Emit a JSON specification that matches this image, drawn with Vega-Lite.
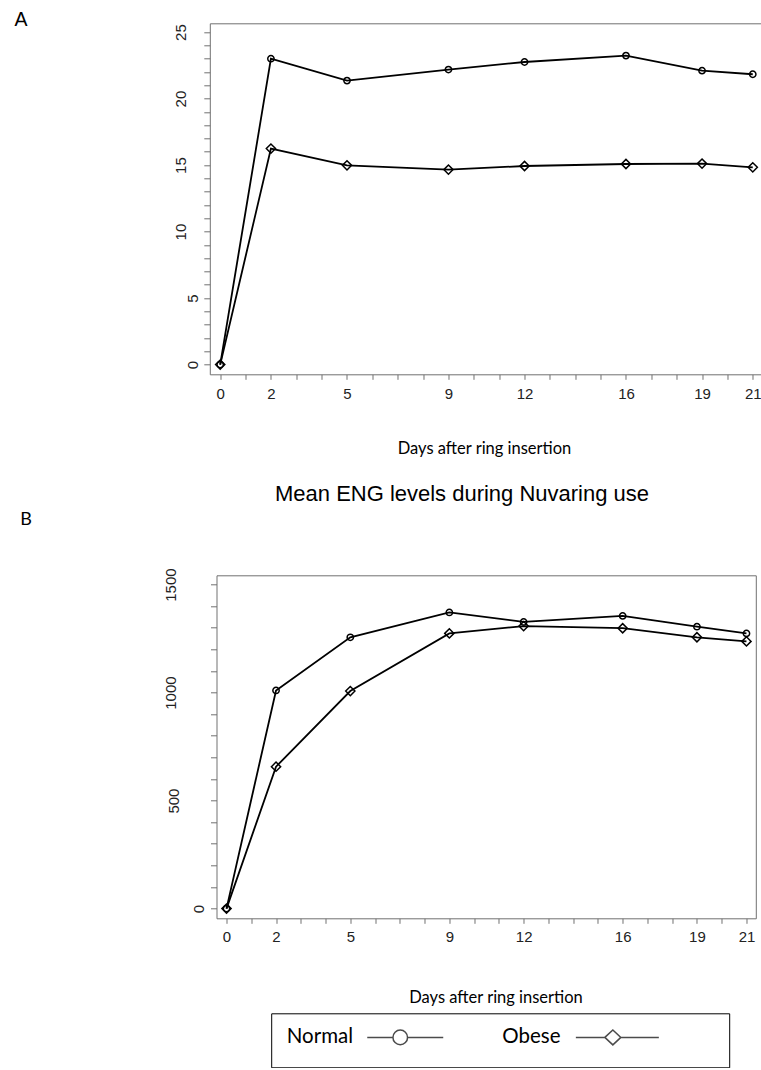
{
  "$schema": "https://vega.github.io/schema/vega-lite/v6.json",
  "padding": {"left": 13.5, "top": 9.3, "right": 0, "bottom": 0},
  "background": "white",
  "spacing": 24,
  "config": {
    "view": {"stroke": null},
    "axis": {
      "grid": false,
      "labelFont": "Liberation Sans",
      "labelFontSize": 15,
      "labelColor": "#222222",
      "domainColor": "#707070",
      "tickColor": "#707070",
      "domainWidth": 1,
      "tickWidth": 1,
      "labelFlush": false,
      "labelOverlap": false,
      "labelBound": false,
      "titleFontWeight": "normal",
      "titleColor": "black"
    }
  },
  "datasets": {
    "A": [
      {"day": 0, "group": "Normal", "value": 0},
      {"day": 2, "group": "Normal", "value": 23.0},
      {"day": 5, "group": "Normal", "value": 21.35},
      {"day": 9, "group": "Normal", "value": 22.18},
      {"day": 12, "group": "Normal", "value": 22.75},
      {"day": 16, "group": "Normal", "value": 23.23},
      {"day": 19, "group": "Normal", "value": 22.1},
      {"day": 21, "group": "Normal", "value": 21.83},
      {"day": 0, "group": "Obese", "value": 0},
      {"day": 2, "group": "Obese", "value": 16.24},
      {"day": 5, "group": "Obese", "value": 14.98},
      {"day": 9, "group": "Obese", "value": 14.66},
      {"day": 12, "group": "Obese", "value": 14.93},
      {"day": 16, "group": "Obese", "value": 15.08},
      {"day": 19, "group": "Obese", "value": 15.11},
      {"day": 21, "group": "Obese", "value": 14.83}
    ],
    "B": [
      {"day": 0, "group": "Normal", "value": 0},
      {"day": 2, "group": "Normal", "value": 1010},
      {"day": 5, "group": "Normal", "value": 1256},
      {"day": 9, "group": "Normal", "value": 1371},
      {"day": 12, "group": "Normal", "value": 1327},
      {"day": 16, "group": "Normal", "value": 1355},
      {"day": 19, "group": "Normal", "value": 1305},
      {"day": 21, "group": "Normal", "value": 1274},
      {"day": 0, "group": "Obese", "value": 0},
      {"day": 2, "group": "Obese", "value": 657},
      {"day": 5, "group": "Obese", "value": 1007},
      {"day": 9, "group": "Obese", "value": 1274},
      {"day": 12, "group": "Obese", "value": 1308},
      {"day": 16, "group": "Obese", "value": 1298},
      {"day": 19, "group": "Obese", "value": 1256},
      {"day": 21, "group": "Obese", "value": 1237}
    ]
  },
  "vconcat": [
    {
      "width": 544,
      "height": 351,
      "data": {"name": "A"},
      "layer": [
        {
          "mark": {"type": "line", "color": "black", "strokeWidth": 1.8},
          "encoding": {
            "x": {
              "field": "day", "type": "quantitative",
              "scale": {"domain": [-0.41, 21.305], "range": [-6.7, 544], "nice": false, "zero": false},
              "axis": {
                "orient": "bottom",
                "values": [0,1,2,3,4,5,6,7,8,9,10,11,12,13,14,15,16,17,18,19,20,21],
                "labelExpr": "indexof([0,2,5,9,12,16,19,21], datum.value) >= 0 ? datum.label : ''",
                "labelAngle": 0,
                "labelBaseline": "alphabetic",
                "labelAlign": "center",
                "tickSize": 5,
                "labelPadding": 19.3,
                "title": "Days after ring insertion",
                "titleFont": "Lato",
                "titleFontSize": 16.5,
                "titleX": 267.5,
                "titleY": 79,
                "titleAlign": "center",
                "titleBaseline": "alphabetic"
              }
            },
            "y": {
              "field": "value", "type": "quantitative",
              "scale": {"domain": [-0.73, 25.66], "nice": false, "zero": false},
              "axis": {
                "orient": "left",
                "offset": 6.7,
                "values": [0,1,2,3,4,5,6,7,8,9,10,11,12,13,14,15,16,17,18,19,20,21,22,23,24,25],
                "labelExpr": "datum.value == 0 || datum.value == 5 ? datum.label : ''",
                "labelAngle": 270,
                "labelAlign": "center",
                "labelBaseline": "alphabetic",
                "tickSize": 6,
                "labelPadding": 6.3,
                "title": "A",
                "titleAngle": 0,
                "titleX": -189.3,
                "titleY": 2.7,
                "titleAlign": "center",
                "titleBaseline": "alphabetic",
                "titleFont": "Liberation Sans",
                "titleFontSize": 19.5
              }
            },
            "detail": {"field": "group"}
          }
        },
        {
          "mark": {"type": "point", "filled": false, "color": "black", "strokeWidth": 1.5, "opacity": 1},
          "encoding": {
            "x": {
              "field": "day", "type": "quantitative",
              "axis": {"orient": "top", "labels": false, "ticks": false, "title": null, "domain": true}
            },
            "y": {
              "field": "value", "type": "quantitative",
              "axis": {
                "orient": "left",
                "offset": 6.7,
                "values": [10, 15, 20, 25],
                "domain": false,
                "ticks": true,
                "tickSize": 6,
                "tickOpacity": 0,
                "labelAngle": 270,
                "labelAlign": "center",
                "labelBaseline": "alphabetic",
                "labelPadding": 18.3,
                "title": null
              }
            },
            "shape": {"field": "group", "type": "nominal", "scale": {"domain": ["Normal", "Obese"], "range": ["circle", "diamond"]}, "legend": null},
            "size": {"field": "group", "type": "nominal", "scale": {"domain": ["Normal", "Obese"], "range": [40, 85]}, "legend": null}
          }
        }
      ],
      "resolve": {"axis": {"x": "independent", "y": "independent"}}
    },
    {
      "width": 539.3,
      "height": 343,
      "data": {"name": "B"},
      "view": {"stroke": "#707070", "strokeWidth": 1},
      "layer": [
        {
          "mark": {"type": "line", "color": "black", "strokeWidth": 1.8},
          "encoding": {
            "x": {
              "field": "day", "type": "quantitative",
              "scale": {"domain": [-0.404, 21.377], "nice": false, "zero": false},
              "axis": {
                "orient": "bottom",
                "domain": false,
                "values": [0,1,2,3,4,5,6,7,8,9,10,11,12,13,14,15,16,17,18,19,20,21],
                "labelExpr": "indexof([0,2,5,9,12,16,19,21], datum.value) >= 0 ? datum.label : ''",
                "labelAngle": 0,
                "labelBaseline": "alphabetic",
                "labelAlign": "center",
                "tickSize": 5,
                "labelPadding": 18.7,
                "title": "Days after ring insertion",
                "titleFont": "Lato",
                "titleFontSize": 16.5,
                "titleX": 279,
                "titleY": 84.3,
                "titleAlign": "center",
                "titleBaseline": "alphabetic"
              }
            },
            "y": {
              "field": "value", "type": "quantitative",
              "scale": {"domain": [-44.9, 1543], "nice": false, "zero": false},
              "axis": {
                "orient": "left",
                "domain": false,
                "format": "d",
                "values": [0,100,200,300,400,500,600,700,800,900,1000,1100,1200,1300,1400,1500],
                "labelExpr": "datum.value == 0 ? datum.label : ''",
                "labelAngle": 270,
                "labelAlign": "center",
                "labelBaseline": "alphabetic",
                "tickSize": 6,
                "labelPadding": 6.7,
                "title": "B",
                "titleAngle": 0,
                "titleX": -191,
                "titleY": -50.5,
                "titleAlign": "center",
                "titleBaseline": "alphabetic",
                "titleFont": "Lato",
                "titleFontSize": 18
              }
            },
            "detail": {"field": "group"}
          }
        },
        {
          "mark": {"type": "point", "filled": false, "color": "black", "strokeWidth": 1.5, "opacity": 1},
          "encoding": {
            "x": {"field": "day", "type": "quantitative", "axis": null},
            "y": {
              "field": "value", "type": "quantitative",
              "axis": {
                "orient": "left",
                "format": "d",
                "values": [500],
                "domain": false,
                "ticks": true,
                "tickSize": 6,
                "tickOpacity": 0,
                "labelAngle": 270,
                "labelAlign": "center",
                "labelBaseline": "alphabetic",
                "labelPadding": 31.7,
                "title": null
              }
            },
            "shape": {"field": "group", "type": "nominal", "scale": {"domain": ["Normal", "Obese"], "range": ["circle", "diamond"]}, "legend": null},
            "size": {"field": "group", "type": "nominal", "scale": {"domain": ["Normal", "Obese"], "range": [40, 60]}, "legend": null}
          }
        },
        {
          "transform": [{"filter": "datum.day < 0"}],
          "mark": {"type": "point", "filled": false, "color": "black", "strokeWidth": 1.5},
          "encoding": {
            "x": {
              "field": "day", "type": "quantitative",
              "axis": {
                "orient": "top", "domain": false, "ticks": false, "labels": false,
                "title": "Mean ENG levels during Nuvaring use",
                "titleFont": "Liberation Sans",
                "titleFontSize": 22,
                "titleX": 245,
                "titleY": -75,
                "titleAlign": "center",
                "titleBaseline": "alphabetic"
              }
            },
            "y": {
              "field": "value", "type": "quantitative",
              "axis": {
                "orient": "left",
                "format": "d",
                "values": [1000, 1500],
                "domain": false,
                "ticks": true,
                "tickSize": 6,
                "tickOpacity": 0,
                "labelAngle": 270,
                "labelAlign": "center",
                "labelBaseline": "alphabetic",
                "labelPadding": 35,
                "title": null
              }
            },
            "shape": {
              "field": "group", "type": "nominal",
              "scale": {
                "domain": ["Normal", "Obese"],
                "range": [
                  "M72.3,0H98M112.6,0A7.3,7.3,0,1,1,98,0A7.3,7.3,0,1,1,112.6,0M112.6,0H148.3M148.3,13",
                  "M65.4,0H94.4L102.4,-7.5L110.4,0L102.4,7.5L94.4,0M110.4,0H148.4M201.5,13"
                ]
              },
              "legend": {
                "orient": "none",
                "legendX": 54.7,
                "legendY": 438,
                "direction": "horizontal",
                "title": null,
                "strokeColor": "black",
                "fillColor": "white",
                "padding": 13.5,
                "symbolSize": 4,
                "symbolStrokeWidth": 1.5,
                "symbolStrokeColor": "black",
                "symbolFillColor": "transparent",
                "labelFont": "Lato",
                "labelFontSize": 20.5,
                "labelColor": "black",
                "labelOffset": -18.4,
                "columnPadding": 53.5
              }
            }
          }
        }
      ],
      "resolve": {"scale": {"shape": "independent"}, "axis": {"x": "independent", "y": "independent"}, "legend": {"shape": "independent"}}
    }
  ]
}
